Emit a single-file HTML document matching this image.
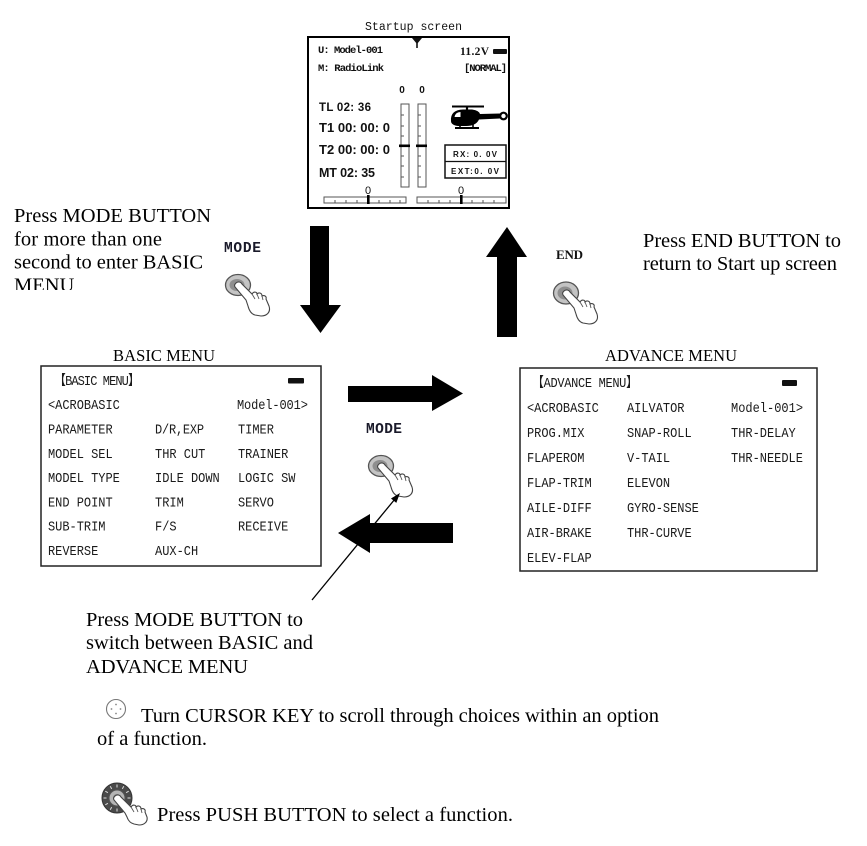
<!DOCTYPE html>
<html>
<head>
<meta charset="utf-8">
<style>
  html, body { margin:0; padding:0; background:#fff; }
  svg { display:block; }
  .serif { font-family: "Liberation Serif", "Times New Roman", serif; }
  .mono { font-family: "Liberation Mono", "Noto Sans CJK SC", monospace; }
  .sans { font-family: "Liberation Sans", Arial, sans-serif; }
</style>
</head>
<body>
<svg width="867" height="846" viewBox="0 0 867 846" xmlns="http://www.w3.org/2000/svg">
  <rect x="0" y="0" width="867" height="846" fill="#fff"/>
  <defs>
    <clipPath id="clipMenu"><rect x="0" y="190" width="240" height="100"/></clipPath>
  </defs>

  <!-- ================= STARTUP SCREEN ================= -->
  <text x="365" y="30" class="mono" font-size="11.5" fill="#111" textLength="97">Startup screen</text>
  <rect x="308" y="37" width="201" height="171" fill="none" stroke="#000" stroke-width="2"/>

  <!-- antenna -->
  <path d="M412,38 L422,38 L417,44 Z" fill="#111"/>
  <line x1="417" y1="43" x2="417" y2="48" stroke="#111" stroke-width="1.6"/>

  <text x="318" y="53" class="mono" font-weight="bold" font-size="10.5" fill="#111" textLength="65">U: Model-001</text>
  <text x="318" y="71" class="mono" font-weight="bold" font-size="10.5" fill="#111" textLength="66">M: RadioLink</text>
  <text x="460" y="55" class="serif" font-weight="bold" font-size="11.5" fill="#111" textLength="29">11.2V</text>
  <rect x="493" y="49" width="14" height="5" rx="1" fill="#111"/>
  <text x="464" y="71" class="mono" font-weight="bold" font-size="10.5" fill="#111" textLength="43">[NORMAL]</text>

  <text x="402" y="93" class="sans" font-weight="bold" font-size="10" fill="#111" text-anchor="middle">0</text>
  <text x="422" y="93" class="sans" font-weight="bold" font-size="10" fill="#111" text-anchor="middle">0</text>

  <text x="319" y="111" class="sans" font-weight="bold" font-size="11.5" fill="#111" textLength="52">TL 02: 36</text>
  <text x="319" y="132" class="sans" font-weight="bold" font-size="13" fill="#111" textLength="71">T1 00: 00: 0</text>
  <text x="319" y="154" class="sans" font-weight="bold" font-size="13" fill="#111" textLength="71">T2 00: 00: 0</text>
  <text x="319" y="177" class="sans" font-weight="bold" font-size="12.5" fill="#111" textLength="56">MT 02: 35</text>

  <!-- vertical bars -->
  <rect x="401" y="104" width="8" height="83" fill="none" stroke="#555" stroke-width="1"/>
  <rect x="418" y="104" width="8" height="83" fill="none" stroke="#555" stroke-width="1"/>
  <g stroke="#555" stroke-width="1">
    <line x1="401" y1="115" x2="404" y2="115"/><line x1="401" y1="126" x2="404" y2="126"/>
    <line x1="401" y1="136" x2="404" y2="136"/><line x1="401" y1="156" x2="404" y2="156"/>
    <line x1="401" y1="166" x2="404" y2="166"/><line x1="401" y1="177" x2="404" y2="177"/>
    <line x1="418" y1="115" x2="421" y2="115"/><line x1="418" y1="126" x2="421" y2="126"/>
    <line x1="418" y1="136" x2="421" y2="136"/><line x1="418" y1="156" x2="421" y2="156"/>
    <line x1="418" y1="166" x2="421" y2="166"/><line x1="418" y1="177" x2="421" y2="177"/>
  </g>
  <rect x="399" y="144.5" width="11" height="2.6" fill="#000"/>
  <rect x="416" y="144.5" width="11" height="2.6" fill="#000"/>

  <!-- helicopter -->
  <line x1="452" y1="106.5" x2="484" y2="106.5" stroke="#000" stroke-width="2"/>
  <line x1="467" y1="106" x2="467" y2="111" stroke="#000" stroke-width="2.2"/>
  <path d="M451,121 Q450,110 463,109.5 L472,109.5 Q479,110.5 480,114 L500,113.5 L500,118.5 L479,119.5 Q476,126 466,126 L458,126 Q451,125 451,121 Z" fill="#000"/>
  <path d="M454.5,117 Q455.5,112 460.5,112 L460.5,117 Z" fill="#fff"/>
  <circle cx="503.5" cy="116" r="3.3" fill="#fff" stroke="#000" stroke-width="2.2"/>
  <line x1="455" y1="128" x2="479" y2="128" stroke="#000" stroke-width="2"/>
  <line x1="460" y1="124" x2="460" y2="128" stroke="#000" stroke-width="1.6"/>
  <line x1="473" y1="124" x2="473" y2="128" stroke="#000" stroke-width="1.6"/>

  <!-- RX box -->
  <rect x="445" y="145" width="61" height="33" fill="none" stroke="#111" stroke-width="1.5"/>
  <line x1="445" y1="161.5" x2="506" y2="161.5" stroke="#111" stroke-width="1.3"/>
  <text x="453" y="157" class="sans" font-weight="bold" font-size="8" fill="#111" textLength="44">RX:  0. 0V</text>
  <text x="451" y="174" class="sans" font-weight="bold" font-size="8" fill="#111" textLength="48">EXT:0. 0V</text>

  <!-- bottom scales -->
  <text x="368" y="194" class="sans" font-size="11" fill="#111" text-anchor="middle">0</text>
  <text x="461" y="194" class="sans" font-size="11" fill="#111" text-anchor="middle">0</text>
  <rect x="324" y="197" width="82" height="6" fill="none" stroke="#555" stroke-width="1"/>
  <rect x="417" y="197" width="89" height="6" fill="none" stroke="#555" stroke-width="1"/>
  <g stroke="#555" stroke-width="1">
    <line x1="335" y1="200" x2="335" y2="203"/><line x1="346" y1="200" x2="346" y2="203"/>
    <line x1="357" y1="200" x2="357" y2="203"/><line x1="379" y1="200" x2="379" y2="203"/>
    <line x1="390" y1="200" x2="390" y2="203"/><line x1="400" y1="200" x2="400" y2="203"/>
    <line x1="428" y1="200" x2="428" y2="203"/><line x1="439" y1="200" x2="439" y2="203"/>
    <line x1="450" y1="200" x2="450" y2="203"/><line x1="472" y1="200" x2="472" y2="203"/>
    <line x1="483" y1="200" x2="483" y2="203"/><line x1="494" y1="200" x2="494" y2="203"/>
  </g>
  <rect x="367" y="195" width="2.6" height="9" fill="#000"/>
  <rect x="460" y="195" width="2.6" height="9" fill="#000"/>

  <!-- ================= LEFT / RIGHT INSTRUCTIONS ================= -->
  <g class="serif" font-size="20.5" fill="#000">
    <text x="14" y="222" textLength="197">Press MODE BUTTON</text>
    <text x="14" y="245.5" textLength="148">for more than one</text>
    <text x="14" y="268.5" textLength="189">second to enter BASIC</text>
    <g clip-path="url(#clipMenu)">
      <text x="14" y="291.5">MENU</text>
    </g>
    <text x="643" y="247" textLength="198">Press END BUTTON to</text>
    <text x="643" y="270" textLength="194">return to Start up screen</text>
  </g>

  <!-- big arrows -->
  <polygon points="310,226 329,226 329,305 341,305 320.5,333 300,305 310,305" fill="#000"/>
  <polygon points="497,337 517,337 517,257 527,257 507,227 486,257 497,257" fill="#000"/>
  <polygon points="348,386 432,386 432,375 463,393.5 432,411 432,402 348,402" fill="#000"/>
  <polygon points="453,523 370,523 370,514 338,533 370,553 370,543 453,543" fill="#000"/>

  <!-- MODE button icon 1 -->
  <text x="224" y="252" class="mono" font-weight="bold" font-size="14.5" fill="#1a1a2a" textLength="37">MODE</text>
  <g transform="translate(238,285)">
    <ellipse cx="0" cy="0" rx="12.5" ry="10.5" fill="#c4c4c4" stroke="#555" stroke-width="1.3"/>
    <ellipse cx="-1" cy="0" rx="7.5" ry="6" fill="#8f8f8f"/>
    <path d="M-2,-2 C0,-4 3,-3 4,-1 L14,9 C16,6 19,7 19,9 C21,7 24,8 24,11 C26,10 29,11 28,14 L31,21 C33,27 29,31 23,31 L17,30 C13,29 11,25 10,21 L8,15 L-3,2 C-4,0 -3,-1 -2,-2 Z" fill="#fff" stroke="#444" stroke-width="1.1"/>
    <path d="M14,9 L17,14 M19,9 L21,14 M24,11 L25,15" fill="none" stroke="#555" stroke-width="0.9"/>
  </g>

  <!-- END button icon -->
  <text x="556" y="259" class="serif" font-weight="bold" font-size="13" fill="#111" textLength="27">END</text>
  <g transform="translate(566,293)">
    <ellipse cx="0" cy="0" rx="12.5" ry="11" fill="#c4c4c4" stroke="#555" stroke-width="1.3"/>
    <ellipse cx="-1" cy="0" rx="7.5" ry="6.5" fill="#8f8f8f"/>
    <path d="M-2,-2 C0,-4 3,-3 4,-1 L14,9 C16,6 19,7 19,9 C21,7 24,8 24,11 C26,10 29,11 28,14 L31,21 C33,27 29,31 23,31 L17,30 C13,29 11,25 10,21 L8,15 L-3,2 C-4,0 -3,-1 -2,-2 Z" fill="#fff" stroke="#444" stroke-width="1.1"/>
    <path d="M14,9 L17,14 M19,9 L21,14 M24,11 L25,15" fill="none" stroke="#555" stroke-width="0.9"/>
  </g>

  <!-- MODE button icon 2 -->
  <text x="366" y="433" class="mono" font-weight="bold" font-size="14.5" fill="#1a1a2a" textLength="36">MODE</text>
  <g transform="translate(381,466)">
    <ellipse cx="0" cy="0" rx="12.5" ry="10.5" fill="#c4c4c4" stroke="#555" stroke-width="1.3"/>
    <ellipse cx="-1" cy="0" rx="7.5" ry="6" fill="#8f8f8f"/>
    <path d="M-2,-2 C0,-4 3,-3 4,-1 L14,9 C16,6 19,7 19,9 C21,7 24,8 24,11 C26,10 29,11 28,14 L31,21 C33,27 29,31 23,31 L17,30 C13,29 11,25 10,21 L8,15 L-3,2 C-4,0 -3,-1 -2,-2 Z" fill="#fff" stroke="#444" stroke-width="1.1"/>
    <path d="M14,9 L17,14 M19,9 L21,14 M24,11 L25,15" fill="none" stroke="#555" stroke-width="0.9"/>
  </g>

  <!-- ================= BASIC MENU ================= -->
  <text x="113" y="361" class="serif" font-size="16.5" fill="#000" textLength="102">BASIC MENU</text>
  <rect x="41" y="366" width="280" height="200" fill="none" stroke="#222" stroke-width="1.5"/>
  <g class="mono" font-size="14" fill="#1a1a1a" transform="scale(0.857,1)">
    <text x="63.0" y="385" textLength="100.3">【BASIC MENU】</text>
    <text x="56.0" y="409">&lt;ACROBASIC</text>
    <text x="276.5" y="409" textLength="82.8">Model-001&gt;</text>
    <text x="56.0" y="433.5">PARAMETER</text>
    <text x="180.9" y="433.5" textLength="57.2">D/R,EXP</text>
    <text x="277.7" y="433.5">TIMER</text>
    <text x="56.0" y="458">MODEL SEL</text>
    <text x="180.9" y="458">THR CUT</text>
    <text x="277.7" y="458">TRAINER</text>
    <text x="56.0" y="482">MODEL TYPE</text>
    <text x="180.9" y="482">IDLE DOWN</text>
    <text x="277.7" y="482">LOGIC SW</text>
    <text x="56.0" y="506.5">END POINT</text>
    <text x="180.9" y="506.5">TRIM</text>
    <text x="277.7" y="506.5">SERVO</text>
    <text x="56.0" y="530.5">SUB-TRIM</text>
    <text x="180.9" y="530.5">F/S</text>
    <text x="277.7" y="530.5">RECEIVE</text>
    <text x="56.0" y="555">REVERSE</text>
    <text x="180.9" y="555">AUX-CH</text>
  </g>
  <rect x="288" y="378" width="16" height="5.5" rx="1" fill="#111"/>

  <!-- ================= ADVANCE MENU ================= -->
  <text x="605" y="361" class="serif" font-size="16.5" fill="#000" textLength="132">ADVANCE MENU</text>
  <rect x="520" y="368" width="297" height="203" fill="none" stroke="#222" stroke-width="1.5"/>
  <g class="mono" font-size="14" fill="#1a1a1a" transform="scale(0.857,1)">
    <text x="620.8" y="387" textLength="123.7">【ADVANCE MENU】</text>
    <text x="614.9" y="412">&lt;ACROBASIC</text>
    <text x="731.6" y="412">AILVATOR</text>
    <text x="853.0" y="412" textLength="84.0">Model-001&gt;</text>
    <text x="614.9" y="437">PROG.MIX</text>
    <text x="731.6" y="437">SNAP-ROLL</text>
    <text x="853.0" y="437">THR-DELAY</text>
    <text x="614.9" y="462">FLAPEROM</text>
    <text x="731.6" y="462">V-TAIL</text>
    <text x="853.0" y="462">THR-NEEDLE</text>
    <text x="614.9" y="487">FLAP-TRIM</text>
    <text x="731.6" y="487">ELEVON</text>
    <text x="614.9" y="512">AILE-DIFF</text>
    <text x="731.6" y="512">GYRO-SENSE</text>
    <text x="614.9" y="537">AIR-BRAKE</text>
    <text x="731.6" y="537">THR-CURVE</text>
    <text x="614.9" y="562">ELEV-FLAP</text>
  </g>
  <rect x="782" y="380" width="15" height="6" rx="1" fill="#111"/>

  <!-- thin pointer arrow -->
  <line x1="312" y1="600" x2="395" y2="499" stroke="#000" stroke-width="1.3"/>
  <polygon points="400,493 396.3,502.9 391,498.5" fill="#000"/>

  <!-- ================= BOTTOM TEXT ================= -->
  <g class="serif" font-size="20.5" fill="#000">
    <text x="86" y="626" textLength="217">Press MODE BUTTON to</text>
    <text x="86" y="649" textLength="227">switch between BASIC and</text>
    <text x="86" y="673" textLength="162">ADVANCE MENU</text>
    <text x="141" y="722" textLength="518">Turn CURSOR KEY to scroll through choices within an option</text>
    <text x="97" y="745" textLength="110">of a function.</text>
    <text x="157" y="821" textLength="356">Press PUSH BUTTON to select a function.</text>
  </g>

  <!-- cursor key icon -->
  <circle cx="116" cy="709" r="9.5" fill="#fff" stroke="#777" stroke-width="1.1"/>
  <g fill="#888">
    <circle cx="116" cy="704.5" r="0.9"/>
    <circle cx="116" cy="713.5" r="0.9"/>
    <circle cx="111.5" cy="709" r="0.9"/>
    <circle cx="120.5" cy="709" r="0.9"/>
  </g>

  <!-- push button icon -->
  <g transform="translate(117,798)">
    <circle cx="0" cy="0" r="15" fill="#4a4a4a" stroke="#333" stroke-width="1"/>
    <g stroke="#ddd" stroke-width="1">
      <line x1="0" y1="-10.5" x2="0" y2="-13.5"/>
      <line x1="5.3" y1="-9.1" x2="6.8" y2="-11.7"/>
      <line x1="9.1" y1="-5.3" x2="11.7" y2="-6.8"/>
      <line x1="10.5" y1="0" x2="13.5" y2="0"/>
      <line x1="-5.3" y1="-9.1" x2="-6.8" y2="-11.7"/>
      <line x1="-9.1" y1="-5.3" x2="-11.7" y2="-6.8"/>
      <line x1="-10.5" y1="0" x2="-13.5" y2="0"/>
      <line x1="-9.1" y1="5.3" x2="-11.7" y2="6.8"/>
      <line x1="-5.3" y1="9.1" x2="-6.8" y2="11.7"/>
      <line x1="0" y1="10.5" x2="0" y2="13.5"/>
    </g>
    <circle cx="0" cy="0" r="8" fill="#b5b5b5" stroke="#555" stroke-width="1"/>
    <circle cx="0" cy="0" r="4" fill="#888"/>
    <path d="M-2,-2 C0,-4 3,-3 4,-1 L14,9 C16,6 19,7 19,9 C21,7 24,8 24,11 C26,10 29,11 28,14 L30,19 C31,24 27,27 22,27 L17,26 C13,25 11,22 10,19 L8,15 L-3,2 C-4,0 -3,-1 -2,-2 Z" fill="#fff" stroke="#444" stroke-width="1.1"/>
    <path d="M14,9 L17,14 M19,9 L21,14 M24,11 L25,15" fill="none" stroke="#555" stroke-width="0.9"/>
  </g>
</svg>
</body>
</html>
